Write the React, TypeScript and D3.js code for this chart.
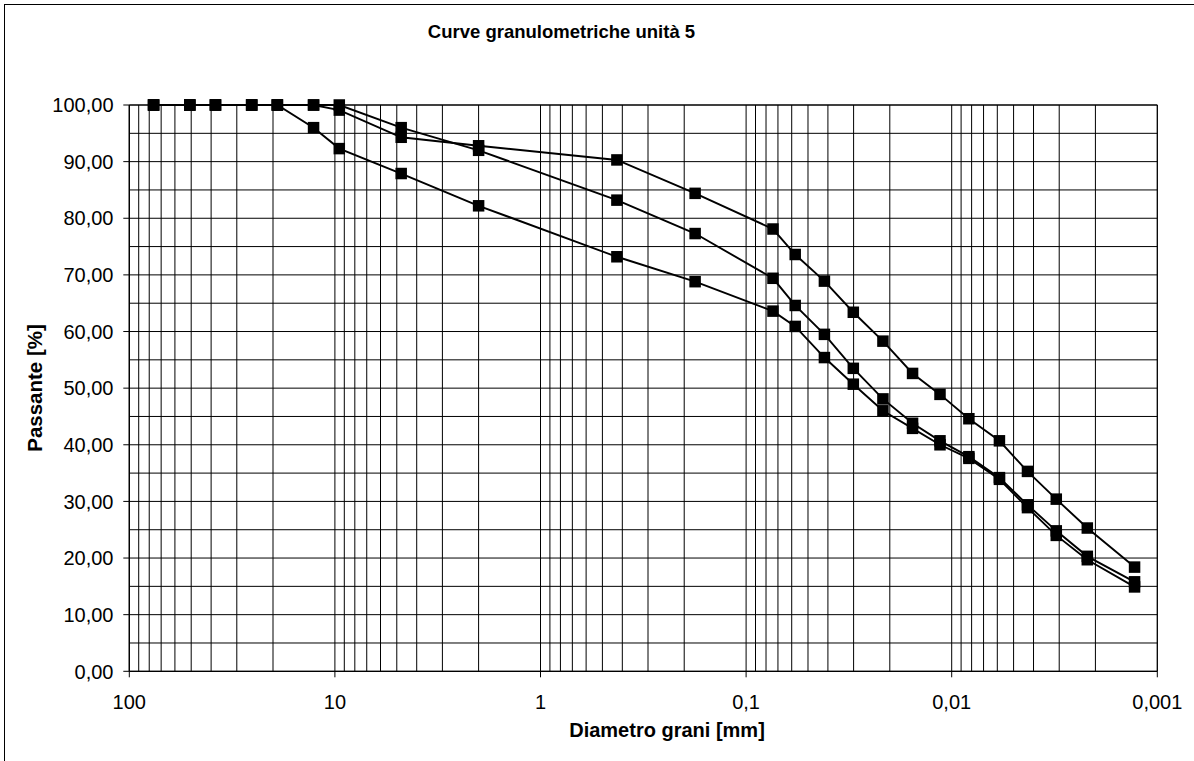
import React from "react";
import * as d3 from "d3";

const diameters = [76.2, 50.8, 38.1, 25.4, 19.05, 12.7, 9.52, 4.76, 2.0, 0.425, 0.177, 0.074, 0.0577, 0.0416, 0.0301, 0.0216, 0.0155, 0.0114, 0.00825, 0.00586, 0.00428, 0.0031, 0.00219, 0.00129];
const serieA = [100, 100, 100, 100, 100, 100, 99.1, 94.3, 92.8, 90.3, 84.4, 78.1, 73.6, 68.9, 63.4, 58.3, 52.6, 48.9, 44.6, 40.7, 35.3, 30.4, 25.3, 18.4];
const serieB = [100, 100, 100, 100, 100, 100, 100, 96.0, 92.0, 83.2, 77.3, 69.4, 64.6, 59.5, 53.5, 48.1, 43.8, 40.7, 37.9, 34.2, 29.4, 24.8, 20.3, 15.8];
const serieC = [100, 100, 100, 100, 100, 96.0, 92.3, 87.9, 82.2, 73.2, 68.8, 63.6, 60.9, 55.4, 50.7, 46.0, 42.9, 40.0, 37.6, 33.9, 28.9, 24.0, 19.7, 14.9];
const series = [serieA, serieB, serieC];

const xTickValues = [100, 10, 1, 0.1, 0.01, 0.001];
const xTickLabels = ["100", "10", "1", "0,1", "0,01", "0,001"];
const yTickValues = [0, 10, 20, 30, 40, 50, 60, 70, 80, 90, 100];

const title = "Curve granulometriche unità 5";
const xTitle = "Diametro grani [mm]";
const yTitle = "Passante [%]";

const W = 1194;
const H = 761;
const left = 129.3;
const right = 1157.3;
const top = 105;
const bottom = 671.3;

export default function App() {
  const x = d3.scaleLog().domain([100, 0.001]).range([left, right]);
  const y = d3.scaleLinear().domain([0, 100]).range([bottom, top]);

  // minor log grid lines
  const vGrid: number[] = [];
  for (let e = -3; e < 2; e++) {
    for (let m = 1; m <= 9; m++) {
      vGrid.push(m * Math.pow(10, e));
    }
  }
  vGrid.push(100);
  const hGrid = d3.range(0, 101, 5);

  const line = d3
    .line<[number, number]>()
    .x((d) => x(d[0]))
    .y((d) => y(d[1]));

  const font = "Arial, 'Liberation Sans', sans-serif";
  const ms = 11.5;

  return (
    <div style={{ position: "absolute", left: 0, top: 0 }}>
      <svg width={W} height={H} style={{ display: "block", background: "#fff" }}>
        <rect x={0} y={0} width={W} height={H} fill="#fff" />
        <rect x={4.5} y={4.5} width={1400} height={1000} fill="none" stroke="#000" strokeWidth={1} />
        <text x={561.5} y={38} textAnchor="middle" fontFamily={font} fontWeight="bold" fontSize={18.5}>
          {title}
        </text>
        {/* grid */}
        {hGrid.map((v) => (
          <line key={"h" + v} x1={left} x2={right} y1={y(v)} y2={y(v)} stroke="#000" strokeWidth={1} />
        ))}
        {vGrid.map((v, i) => (
          <line key={"v" + i} x1={x(v)} x2={x(v)} y1={top} y2={bottom} stroke="#000" strokeWidth={1} />
        ))}
        {/* axes */}
        <line x1={left} x2={left} y1={top} y2={bottom} stroke="#000" strokeWidth={1.3} />
        <line x1={left} x2={right} y1={bottom} y2={bottom} stroke="#000" strokeWidth={1.3} />
        <line x1={right} x2={right} y1={top} y2={bottom} stroke="#000" strokeWidth={1} />
        <line x1={left} x2={right} y1={top} y2={top} stroke="#000" strokeWidth={1} />
        {yTickValues.map((v) => (
          <g key={"yt" + v}>
            <line x1={left - 6} x2={left} y1={y(v)} y2={y(v)} stroke="#000" strokeWidth={1} />
            <text x={113.5} y={y(v)} dy="0.36em" textAnchor="end" fontFamily={font} fontSize={20}>
              {d3.format(".2f")(v).replace(".", ",")}
            </text>
          </g>
        ))}
        {xTickValues.map((v, i) => (
          <g key={"xt" + v}>
            <line x1={x(v)} x2={x(v)} y1={bottom} y2={bottom + 6} stroke="#000" strokeWidth={1} />
            <text x={x(v)} y={709} textAnchor="middle" fontFamily={font} fontSize={20}>
              {xTickLabels[i]}
            </text>
          </g>
        ))}
        <text x={667} y={737} textAnchor="middle" fontFamily={font} fontWeight="bold" fontSize={20}>
          {xTitle}
        </text>
        <text
          transform={`translate(41.5,388) rotate(-90)`}
          textAnchor="middle"
          fontFamily={font}
          fontWeight="bold"
          fontSize={20.5}
        >
          {yTitle}
        </text>
        {/* series */}
        {series.map((s, si) => {
          const pts: [number, number][] = diameters.map((d, i) => [d, s[i]]);
          return (
            <g key={"s" + si}>
              <path d={line(pts) || ""} fill="none" stroke="#000" strokeWidth={1.9} />
              {pts.map((p, i) => (
                <rect
                  key={i}
                  x={x(p[0]) - ms / 2}
                  y={y(p[1]) - ms / 2}
                  width={ms}
                  height={ms}
                  fill="#000"
                />
              ))}
            </g>
          );
        })}
      </svg>
    </div>
  );
}
